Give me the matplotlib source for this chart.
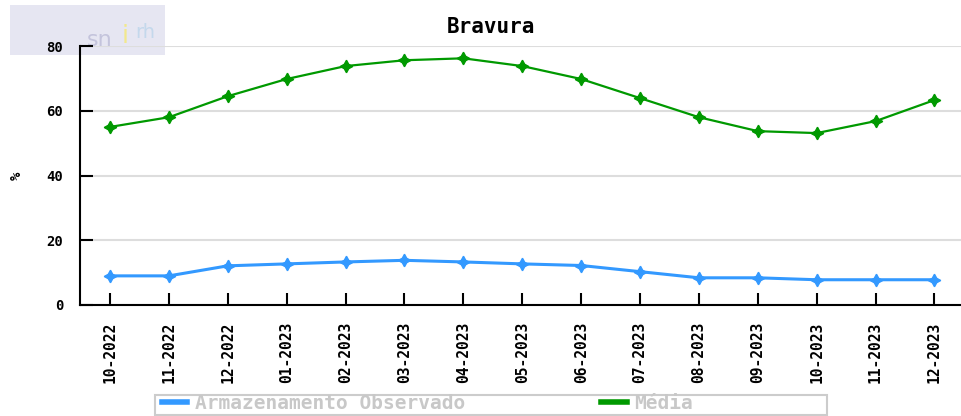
import matplotlib
matplotlib.use("Agg")
import matplotlib.pyplot as plt
from matplotlib.patches import Rectangle
from matplotlib.lines import Line2D

months = ["10-2022", "11-2022", "12-2022", "01-2023", "02-2023", "03-2023", "04-2023",
          "05-2023", "06-2023", "07-2023", "08-2023", "09-2023", "10-2023", "11-2023", "12-2023"]
observado = [9.0, 9.0, 12.1, 12.7, 13.3, 13.8, 13.3, 12.7, 12.2, 10.3, 8.4, 8.4, 7.8, 7.8, 7.8]
media = [55.0, 58.0, 64.5, 69.8, 73.8, 75.6, 76.2, 73.8, 69.8, 63.9, 58.0, 53.7, 53.1, 56.8, 63.3]
yticks = [0, 20, 40, 60, 80]

fig = plt.figure(figsize=(9.61, 4.16), dpi=100)

# watermark logo (background)
fig.patches.append(Rectangle((10/961, 1-55/416), 155/961, 50/416, transform=fig.transFigure,
                             facecolor="#e6e6f2", edgecolor="none", zorder=0))
fig.text(100/961, 1-40/416, "sn", color="#c4c4dc", fontsize=16, ha="center", va="center", zorder=0.5)
fig.text(125/961, 1-36/416, "i", color="#f2e88c", fontsize=18, ha="center", va="center", zorder=0.5)
fig.text(145/961, 1-33/416, "rh", color="#c4d8ec", fontsize=14, ha="center", va="center", zorder=0.5)

# legend box
fig.patches.append(Rectangle((155/961, 1/416), (827-155)/961, 20/416, transform=fig.transFigure,
                             facecolor="white", edgecolor="#cccccc", lw=1.5, zorder=0))

ax = fig.add_axes([80/961, 1-305/416, 1-80/961, (305-46)/416])
ax.set_zorder(2)
ax.patch.set_alpha(0)

x = list(range(len(months)))
star = (4, 1, 0)
ax.plot(x, media, color="#009900", lw=1.6, marker=star, ms=9, mec="#009900", mfc="#009900",
        label="Média", zorder=3)
ax.plot(x, observado, color="#3399ff", lw=2.2, marker=star, ms=9, mec="#3399ff", mfc="#3399ff",
        label="Armazenamento Observado", zorder=3)

ax.set_xlim(-0.51, 14.45)
ax.set_ylim(0, 80)
ax.set_yticks(yticks)
ax.set_yticklabels([str(v) for v in yticks], fontfamily="DejaVu Sans Mono", fontweight="bold", fontsize=10)
ax.set_xticks(x)
ax.set_xticklabels(months, rotation=90, fontfamily="DejaVu Sans Mono", fontweight="bold", fontsize=10.5)
ax.tick_params(axis="both", direction="in", length=9, width=1.5, color="black")
ax.tick_params(axis="y", pad=12)
ax.tick_params(axis="x", pad=12)
ax.yaxis.grid(True, color="#dddddd", lw=1.5)
ax.set_axisbelow(True)
for s in ["top", "right"]:
    ax.spines[s].set_visible(False)
for s in ["left", "bottom"]:
    ax.spines[s].set_linewidth(1.5)

ax.set_ylabel("%", fontfamily="DejaVu Sans Mono", fontweight="bold", fontsize=10)
ax.yaxis.set_label_coords(-0.064, 0.5)
fig.text(491/961, 1-27/416, "Bravura", ha="center", va="center", fontweight="bold",
         fontfamily="DejaVu Sans Mono", fontsize=15)

h1 = Line2D([], [], color="#3399ff", lw=4)
h2 = Line2D([], [], color="#009900", lw=4)
leg = fig.legend([h1, h2], ["Armazenamento Observado", "Média"], loc="lower left",
                 bbox_to_anchor=(160/961, 1/416),
                 ncol=2, frameon=False,
                 prop={"family": "DejaVu Sans Mono", "weight": "bold", "size": 14},
                 handlelength=1.3, handletextpad=0.4, columnspacing=7.0, borderpad=0.1,
                 borderaxespad=0)
for t in leg.get_texts():
    t.set_color("#c8c8c8")

fig.savefig("out.png", dpi=100)
